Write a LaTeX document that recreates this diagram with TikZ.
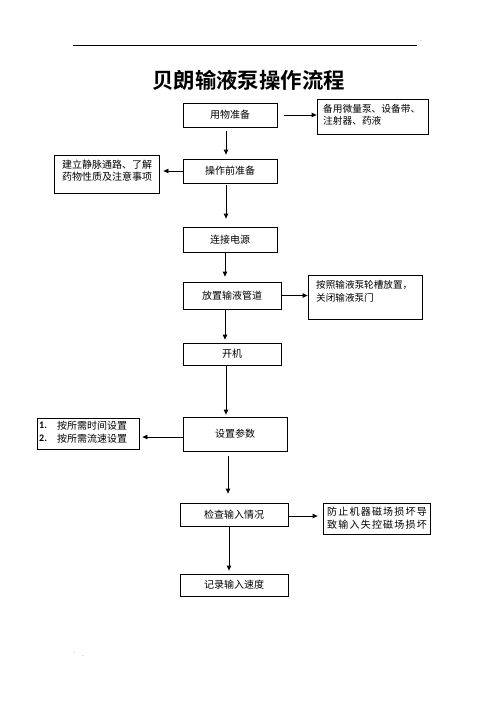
\documentclass[tikz,border=0pt]{standalone}
\usepackage{fontspec}
\setmainfont{Noto Sans CJK SC}[BoldFont={Noto Sans CJK SC Bold}]
\newfontfamily\numfont{Carlito}
\usetikzlibrary{arrows.meta}
\begin{document}
\begin{tikzpicture}[x=1pt,y=-1pt,
  box/.style={draw, line width=0.8pt, inner sep=0pt},
  lbl/.style={font=\fontsize{10}{12}\selectfont},
  para/.style={anchor=north west, inner sep=0pt, align=left},
  arr/.style={-{Triangle[length=5pt,width=4.5pt]}, line width=0.8pt}]
\useasboundingbox (0,0) rectangle (496,702);
% header
\coordinate (hl) at (73,45);
\coordinate (hr) at (417,45);
\draw[line width=0.8pt] (hl) -- (hr);
\node[font=\fontsize{5}{5}\selectfont, inner sep=0pt] (hdot) at (421,41) {.};
\node[font=\fontsize{5}{5}\selectfont, text=gray, inner sep=0pt] (m1) at (76,654) {'};
\node[font=\fontsize{5}{5}\selectfont, inner sep=0pt] (m2) at (83,656) {.};
% title
\node[font=\fontsize{21.4}{24}\selectfont\bfseries, inner sep=0pt] (title) at (248.5,80) {贝朗输液泵操作流程};
% boxes
\node[box, lbl, minimum width=94pt, minimum height=24pt] (b1) at (230,115) {用物准备};
\node[box, minimum width=111pt, minimum height=35pt] (b2) at (372.5,116.5) {};
\node[para, font=\fontsize{9.7}{12}\selectfont] (t2) at (323,104) {备用微量泵、设备带、\\注射器、药液};
\node[box, lbl, minimum width=94pt, minimum height=24pt] (b3) at (230,171) {操作前准备};
\node[box, minimum width=105pt, minimum height=38pt] (b4) at (106.5,174) {};
\node[para, font=\fontsize{10}{12}\selectfont] (t4) at (62,160) {建立静脉通路、了解\\药物性质及注意事项};
\node[box, lbl, minimum width=94pt, minimum height=25pt] (b5) at (230,239.5) {连接电源};
\node[box, lbl, minimum width=98pt, minimum height=27pt] (b6) at (232,295.5) {放置输液管道};
\node[box, minimum width=114pt, minimum height=44pt] (b7) at (365,297) {};
\node[para, font=\fontsize{9.6}{13}\selectfont] (t7) at (316,280) {按照输液泵轮槽放置，\\关闭输液泵门};
\node[box, lbl, minimum width=98pt, minimum height=22pt] (b8) at (232,354) {开机};
\node[box, lbl, minimum width=104pt, minimum height=34pt] (b9) at (235,434) {设置参数};
\node[box, minimum width=102pt, minimum height=31pt] (b10) at (88,433.5) {};
\node[para, font=\fontsize{10}{13}\selectfont] (t10) at (57,421) {按所需时间设置\\按所需流速设置};
\node[para, font=\numfont\fontsize{10}{13}\selectfont\bfseries] (n10) at (39,422) {1.\\2.};
\node[box, lbl, minimum width=108pt, minimum height=23pt] (b11) at (234,514.5) {检查输入情况};
\node[box, minimum width=107pt, minimum height=31pt] (b12) at (376.5,518.5) {};
\node[para, font=\fontsize{10}{13}\selectfont\addfontfeature{LetterSpace=12}] (t12) at (327,507) {防止机器磁场损坏导\\致输入失控磁场损坏};
\node[box, lbl, minimum width=108pt, minimum height=22pt] (b13) at (234,585) {记录输入速度};
% vertical connectors
\draw[arr, shorten <=4pt, shorten >=4pt] ([xshift=-4pt]b1.south) -- ([xshift=-4pt]b3.north);
\draw[arr, shorten <=2pt, shorten >=8pt] ([xshift=-4pt]b3.south) -- ([xshift=-4pt]b5.north);
\draw[arr, shorten >=5pt] ([xshift=-5pt]b5.south) -- ([xshift=-7pt]b6.north);
\draw[arr, shorten >=3pt] ([xshift=-7pt]b6.south) -- ([xshift=-7pt]b8.north);
\draw[arr, shorten >=2pt] ([xshift=-6pt]b8.south) -- ([xshift=-9pt]b9.north);
\draw[arr, shorten <=5pt, shorten >=9pt] ([xshift=-7pt]b9.south) -- ([xshift=-6pt]b11.north);
\draw[arr, shorten >=3pt] ([xshift=-5pt]b11.south) -- ([xshift=-5pt]b13.north);
% horizontal connectors
\draw[arr, shorten <=7pt] (b1.east) -- (b1.east -| b2.west);
\draw[arr, shorten >=4pt] (b3.west) -- (b3.west -| b4.east);
\draw[arr] (b6.east) -- (b6.east -| b7.west);
\draw[arr, shorten >=3pt] ([yshift=-3pt]b9.west) -- ([yshift=-3pt]b9.west -| b10.east);
\draw[arr, shorten >=5pt] ([yshift=-1.5pt]b11.east) -- ([yshift=-1.5pt]b11.east -| b12.west);
\end{tikzpicture}
\end{document}
